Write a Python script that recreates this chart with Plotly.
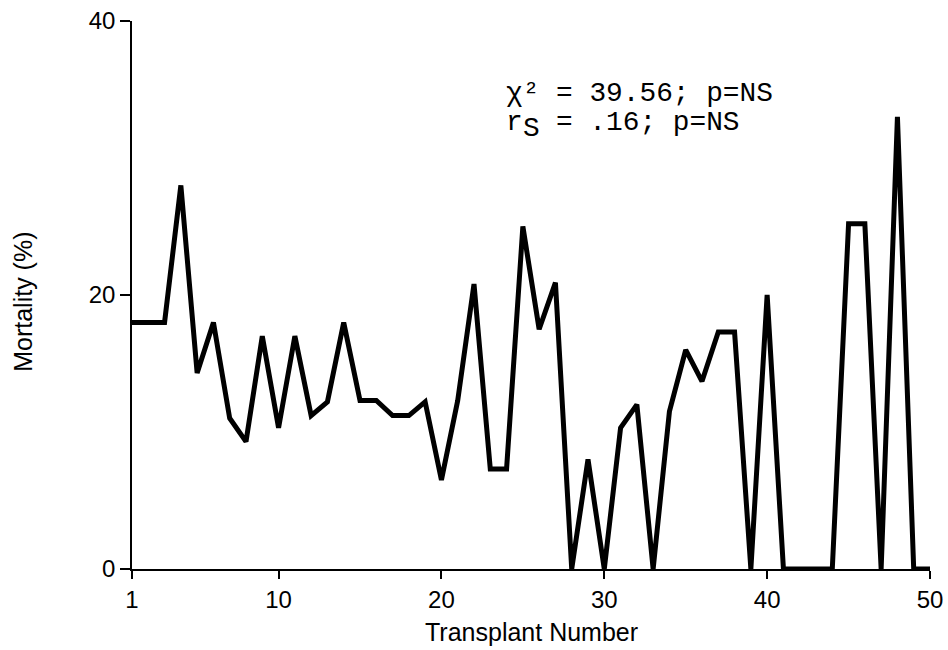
import plotly.graph_objects as go

# Mortality (%) for each consecutive transplant
transplant_number = list(range(1, 51))
mortality_pct = [
    18, 18, 18, 28, 14.3, 18, 11, 9.3, 17, 10.3,
    17, 11.2, 12.2, 18, 12.3, 12.3, 11.2, 11.2, 12.2, 6.5,
    12.3, 20.8, 7.3, 7.3, 25, 17.5, 20.9, 0, 8, 0,
    10.3, 12, 0, 11.5, 16, 13.7, 17.3, 17.3, 0, 20,
    0, 0, 0, 0, 25.2, 25.2, 0, 33, 0, 0,
]

x_ticks = [1, 10, 20, 30, 40, 50]
y_ticks = [0, 20, 40]

x_title = "Transplant Number"
y_title = "Mortality (%)"
stat_line1 = "\u03c7\u00b2 = 39.56; p=NS"
stat_line2_head = "r"
stat_line2_sub = "S"
stat_line2_tail = "= .16; p=NS"

fig = go.Figure()
fig.add_trace(go.Scatter(
    x=transplant_number,
    y=mortality_pct,
    mode="lines",
    line=dict(color="black", width=5),
    cliponaxis=False,
    showlegend=False,
))

sans = "Liberation Sans, Arial, sans-serif"
tick_font = dict(family=sans, size=24, color="black")
title_font = dict(family=sans, size=25, color="black")

axis_common = dict(
    tickmode="array",
    ticks="outside",
    tickwidth=1.5,
    tickcolor="black",
    showline=True,
    linecolor="black",
    linewidth=1.5,
    showgrid=False,
    zeroline=False,
    automargin=False,
    tickfont=tick_font,
)

fig.update_layout(
    width=948,
    height=650,
    margin=dict(l=132, r=18, t=21, b=81, autoexpand=False),
    paper_bgcolor="white",
    plot_bgcolor="white",
    xaxis=dict(range=[1, 50], tickvals=x_ticks,
               ticktext=[str(v) for v in x_ticks], ticklen=8, **axis_common),
    yaxis=dict(range=[0, 40], tickvals=y_ticks,
               ticktext=[str(v) for v in y_ticks], ticklen=10, **axis_common),
)

# axis titles
fig.add_annotation(x=0.5, y=-0.115, xref="paper", yref="paper",
                   xanchor="center", yanchor="middle", text=x_title,
                   showarrow=False, font=title_font)
fig.add_annotation(x=-0.137, y=0.487, xref="paper", yref="paper",
                   xanchor="center", yanchor="middle", text=y_title,
                   textangle=-90, showarrow=False, font=title_font)

# statistics block, monospaced
mono_size = 27.8
mono = dict(family="Liberation Mono, DejaVu Sans Mono, monospace",
            size=mono_size, color="black")
pitch = 0.6 * mono_size / 798.0
x0 = 0.466
fig.add_annotation(x=x0, y=0.868, xref="paper", yref="paper",
                   xanchor="left", yanchor="middle", text=stat_line1,
                   showarrow=False, font=mono)
fig.add_annotation(x=x0, y=0.815, xref="paper", yref="paper",
                   xanchor="left", yanchor="middle", text=stat_line2_head,
                   showarrow=False, font=mono)
fig.add_annotation(x=x0 + pitch, y=0.803, xref="paper", yref="paper",
                   xanchor="left", yanchor="middle", text=stat_line2_sub,
                   showarrow=False, font=mono)
fig.add_annotation(x=x0 + 3 * pitch, y=0.815, xref="paper", yref="paper",
                   xanchor="left", yanchor="middle", text=stat_line2_tail,
                   showarrow=False, font=mono)

fig.write_html("out.html")
